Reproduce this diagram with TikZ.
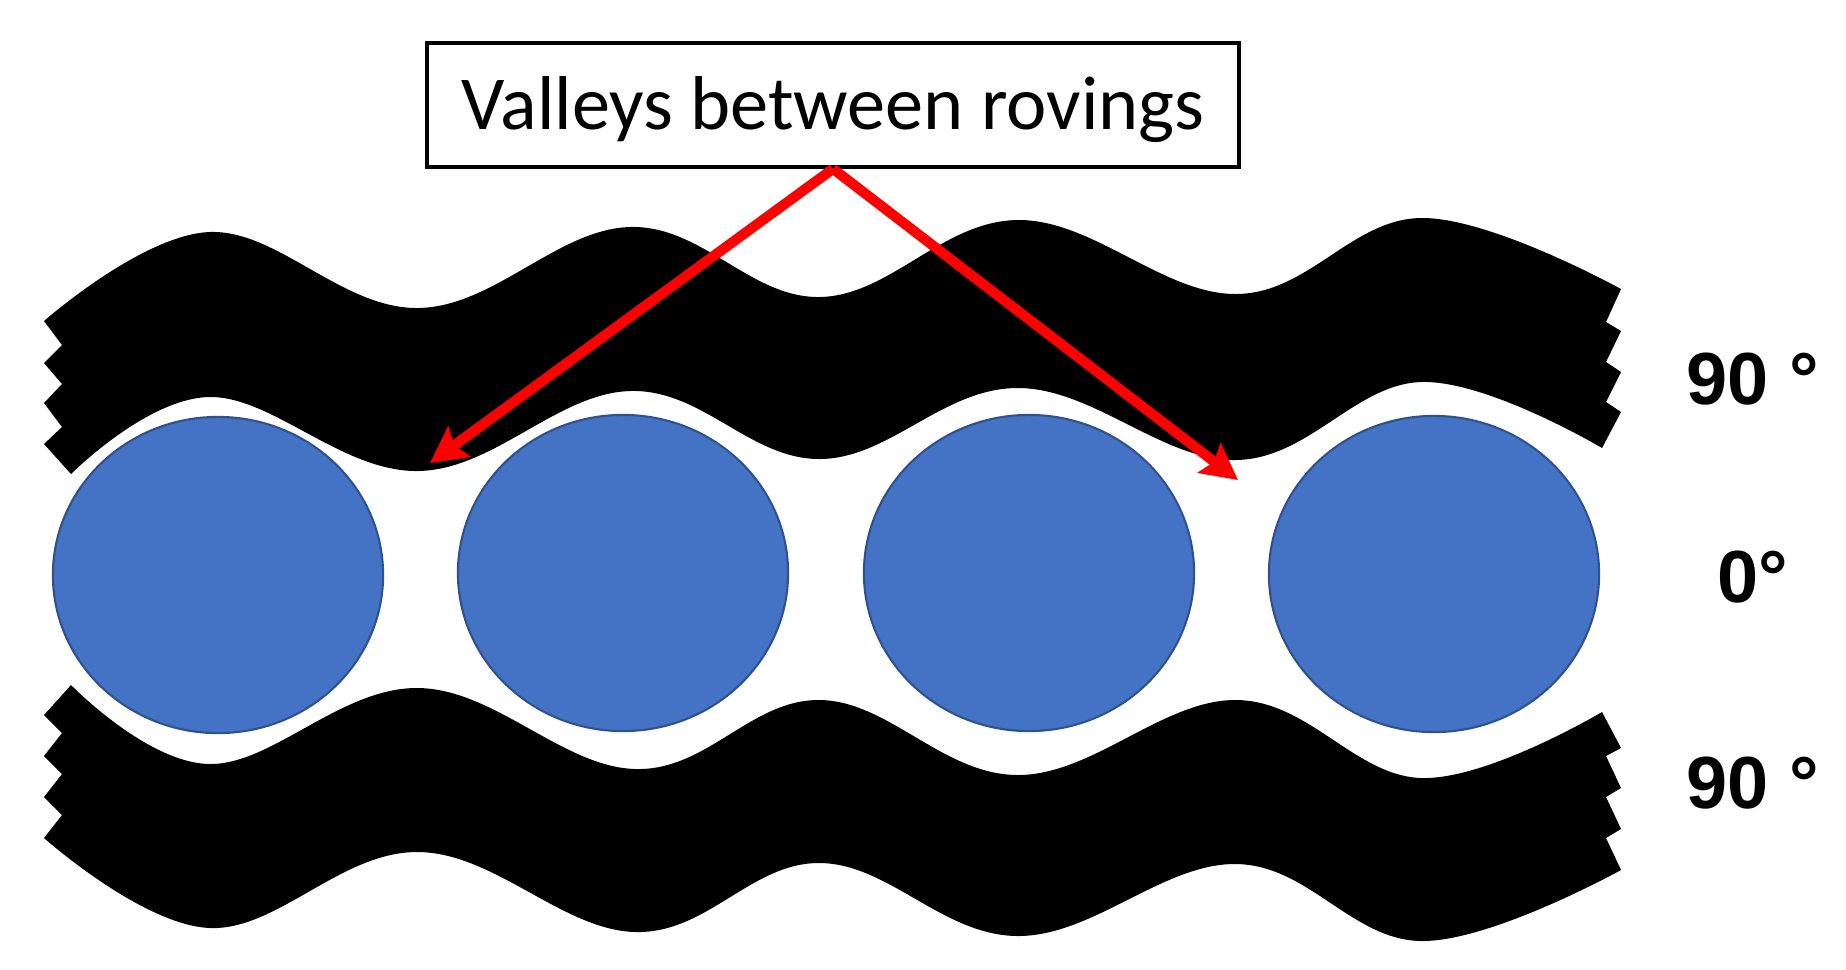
\documentclass[tikz,border=0pt]{standalone}
\usepackage{fontspec}
\usepackage{xcolor}
\usepackage{tikz}
\usetikzlibrary{arrows.meta,shapes.geometric}
\setmainfont{Carlito}
\newfontfamily\labelfont{Liberation Sans}
\definecolor{roving}{HTML}{4472C4}
\definecolor{rovingb}{HTML}{2F528F}
\tikzset{
  ar/.style={-{Stealth[length=3.6mm,width=3.7mm,inset=0.6mm]},line width=2.9pt,red},
  box/.style={draw=black,line width=1pt,fill=white,minimum width=8.12cm,minimum height=1.24cm,inner sep=0pt,font=\fontsize{21.7}{24}\selectfont},
  rnd/.style={ellipse,draw=rovingb,line width=0.6pt,fill=roving,minimum width=3.3cm,minimum height=3.16cm,inner sep=0pt},
  ang/.style={font=\labelfont\bfseries\fontsize{21}{24}\selectfont,inner sep=0pt},
  band/.style={fill=black,draw=none},
  wave/.style={smooth,tension=0.65}
}
\begin{document}
\begin{tikzpicture}[x=0.01cm,y=-0.01cm]
\useasboundingbox (0,0) rectangle (1846,969);
% upper band
\path[band] plot[wave] coordinates {(44,321) (210,232) (418,308) (630,227) (820,297) (1018,220) (1236,294) (1421,218) (1621,289)}
 -- (1606,322) -- (1621,331) -- (1606,362) -- (1621,372) -- (1606,402) -- (1621,412) -- (1602,448)
 -- plot[wave] coordinates {(1602,448) (1421,382) (1236,460) (1018,388) (820,459) (630,391) (418,471) (210,397) (71,474)}
 -- (44,444) -- (62,427) -- (44,403) -- (62,384) -- (44,363) -- (62,345) -- cycle;
% lower band
\path[band] plot[wave] coordinates {(71,685) (210,764) (418,688) (635,769) (820,700) (1018,775) (1236,700) (1421,778) (1602,712)}
 -- (1621,748) -- (1606,756) -- (1621,788) -- (1606,797) -- (1621,829) -- (1606,838) -- (1621,870)
 -- plot[wave] coordinates {(1621,870) (1421,941) (1236,864) (1018,936) (820,863) (635,932) (418,852) (210,928) (44,838)}
 -- (62,815) -- (44,797) -- (62,774) -- (44,756) -- (62,733) -- (44,715) -- cycle;
\foreach \x/\y/\n in {218/575/r1,623/573/r2,1029/573/r3,1434/574/r4}{
 \node[rnd] (\n) at (\x,\y) {};}
\node[box] (val) at (833,105) {\raisebox{-2.4mm}[0pt][0pt]{Valleys between rovings}};
\coordinate (tl) at (430,463);
\coordinate (tr) at (1238,480);
\draw[ar] (val.south) -- (tl);
\draw[ar] (val.south) -- (tr);
\node[ang] (a1) at (1753,379) {90 °};
\node[ang] (a2) at (1753,577) {0°};
\node[ang] (a3) at (1753,783) {90 °};
\end{tikzpicture}
\end{document}
